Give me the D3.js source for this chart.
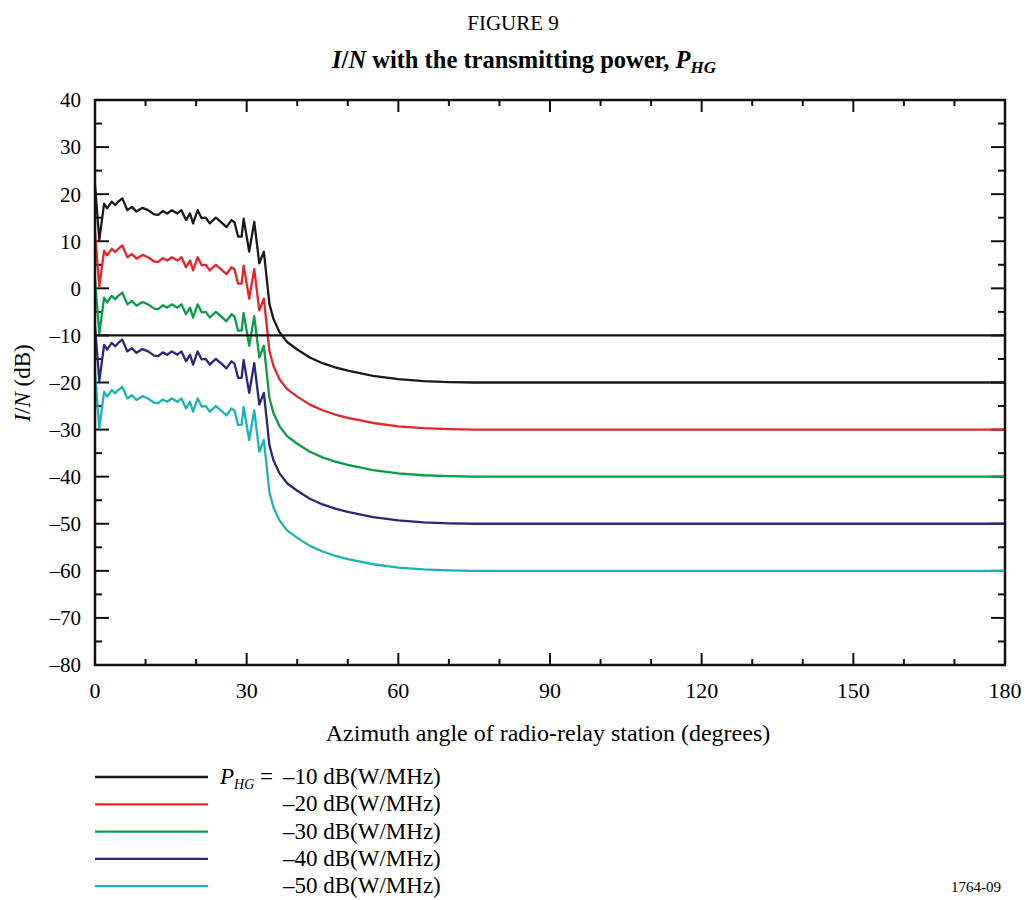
<!DOCTYPE html>
<html>
<head>
<meta charset="utf-8">
<script src="https://cdn.jsdelivr.net/npm/d3@7"></script>
<style>
  body { margin: 0; background: #fff; }
  svg { display: block; font-family: "Liberation Serif", "DejaVu Serif", serif; }
</style>
</head>
<body>
<script>
// Azimuth angle (degrees), shared by all curves
const azimuth = [0, 0.85, 1.8, 2.4, 3.3, 4.0, 4.6, 5.4, 6.4, 7.3,
  8.2, 9.4, 10.5, 11.7, 12.5, 13.4, 14.3, 15.2, 16.3, 17.1,
  18.0, 18.8, 19.4, 20.3, 21.1, 21.9, 22.7, 23.9, 24.9, 26.0,
  27.0, 27.6, 28.3, 29.0, 29.4, 30.5, 31.5, 32.5, 33.4, 34.5,
  35.3, 36.5, 38, 40, 42.5, 45, 47.5, 50, 55, 60,
  65, 70, 75, 90, 120, 150, 180];

// I/N (dB) for each transmitting power
const inPm10 = [22, 10.3, 18.0, 17.0, 18.4, 17.7, 18.4, 19.1, 16.6, 17.3,
  16.3, 17.1, 16.6, 15.7, 15.6, 16.4, 15.9, 16.6, 15.9, 16.6,
  14.5, 15.9, 13.8, 16.6, 14.9, 15.0, 13.8, 15.0, 14.1, 13.0,
  14.5, 14.0, 11.0, 11.0, 14.8, 7.8, 14.1, 5.3, 7.8, -3.3,
  -6.5, -9.3, -11.4, -13.0, -14.7, -15.9, -16.8, -17.5, -18.6, -19.3,
  -19.7, -19.9, -20, -20, -20, -20, -20];
const inPm20 = [12, 0.3, 8.0, 7.0, 8.4, 7.7, 8.4, 9.1, 6.6, 7.3,
  6.3, 7.1, 6.6, 5.7, 5.6, 6.4, 5.9, 6.6, 5.9, 6.6,
  4.5, 5.9, 3.8, 6.6, 4.9, 5.0, 3.8, 5.0, 4.1, 3.0,
  4.5, 4.0, 1.0, 1.0, 4.8, -2.2, 4.1, -4.7, -2.2, -13.3,
  -16.5, -19.3, -21.4, -23.0, -24.7, -25.9, -26.8, -27.5, -28.6, -29.3,
  -29.7, -29.9, -30, -30, -30, -30, -30];
const inPm30 = [2, -9.7, -2.0, -3.0, -1.6, -2.3, -1.6, -0.9, -3.4, -2.7,
  -3.7, -2.9, -3.4, -4.3, -4.4, -3.6, -4.1, -3.4, -4.1, -3.4,
  -5.5, -4.1, -6.2, -3.4, -5.1, -5.0, -6.2, -5.0, -5.9, -7.0,
  -5.5, -6.0, -9.0, -9.0, -5.2, -12.2, -5.9, -14.7, -12.2, -23.3,
  -26.5, -29.3, -31.4, -33.0, -34.7, -35.9, -36.8, -37.5, -38.6, -39.3,
  -39.7, -39.9, -40, -40, -40, -40, -40];
const inPm40 = [-8, -19.7, -12.0, -13.0, -11.6, -12.3, -11.6, -10.9, -13.4, -12.7,
  -13.7, -12.9, -13.4, -14.3, -14.4, -13.6, -14.1, -13.4, -14.1, -13.4,
  -15.5, -14.1, -16.2, -13.4, -15.1, -15.0, -16.2, -15.0, -15.9, -17.0,
  -15.5, -16.0, -19.0, -19.0, -15.2, -22.2, -15.9, -24.7, -22.2, -33.3,
  -36.5, -39.3, -41.4, -43.0, -44.7, -45.9, -46.8, -47.5, -48.6, -49.3,
  -49.7, -49.9, -50, -50, -50, -50, -50];
const inPm50 = [-18, -29.7, -22.0, -23.0, -21.6, -22.3, -21.6, -20.9, -23.4, -22.7,
  -23.7, -22.9, -23.4, -24.3, -24.4, -23.6, -24.1, -23.4, -24.1, -23.4,
  -25.5, -24.1, -26.2, -23.4, -25.1, -25.0, -26.2, -25.0, -25.9, -27.0,
  -25.5, -26.0, -29.0, -29.0, -25.2, -32.2, -25.9, -34.7, -32.2, -43.3,
  -46.5, -49.3, -51.4, -53.0, -54.7, -55.9, -56.8, -57.5, -58.6, -59.3,
  -59.7, -59.9, -60, -60, -60, -60, -60];

const powerLabels = ["–10 dB(W/MHz)", "–20 dB(W/MHz)", "–30 dB(W/MHz)", "–40 dB(W/MHz)", "–50 dB(W/MHz)"];
const threshold = -10;

const xTicks = [0, 30, 60, 90, 120, 150, 180];
const yTicks = [40, 30, 20, 10, 0, -10, -20, -30, -40, -50, -60, -70, -80];

const series = [
  { values: inPm10, color: "#1a1a1a" },
  { values: inPm20, color: "#e2262b" },
  { values: inPm30, color: "#0a9c48" },
  { values: inPm40, color: "#2a2878" },
  { values: inPm50, color: "#1db2b4" }
];

let width = 1027, height = 900;
let svg = d3.select("body").append("svg")
  .attr("width", width)
  .attr("height", height);

let x = d3.scaleLinear().domain([0, 180]).range([95, 1005]);
let y = d3.scaleLinear().domain([-80, 40]).range([665, 100]);

// titles
svg.append("text").attr("x", 513).attr("y", 30)
  .attr("text-anchor", "middle").attr("font-size", 21).text("FIGURE 9");

let sub = svg.append("text").attr("x", 524).attr("y", 68)
  .attr("text-anchor", "middle").attr("font-size", 24.5).attr("font-weight", "bold");
sub.append("tspan").attr("font-style", "italic").text("I");
sub.append("tspan").text("/");
sub.append("tspan").attr("font-style", "italic").text("N");
sub.append("tspan").text(" with the transmitting power, ");
sub.append("tspan").attr("font-style", "italic").text("P");
sub.append("tspan").attr("font-style", "italic").attr("font-size", 17).attr("dy", 5).text("HG");

// minor ticks (10 deg, 5 dB)
let xMinor = d3.range(0, 181, 10).filter(d => d % 30 !== 0);
let yMinor = d3.range(-80, 41, 5).filter(d => d % 10 !== 0);

let ticks = svg.append("g").attr("stroke", "#111");
ticks.selectAll(".xb").data(xTicks.concat(xMinor)).enter().append("line")
  .attr("x1", d => x(d)).attr("x2", d => x(d))
  .attr("y1", 665).attr("y2", d => d % 30 === 0 ? 653 : 659).attr("stroke-width", 2);
ticks.selectAll(".xt").data(xTicks.concat(xMinor)).enter().append("line")
  .attr("x1", d => x(d)).attr("x2", d => x(d))
  .attr("y1", 100).attr("y2", d => d % 30 === 0 ? 112 : 106).attr("stroke-width", 2);
ticks.selectAll(".yl").data(yTicks.concat(yMinor)).enter().append("line")
  .attr("y1", d => y(d)).attr("y2", d => y(d))
  .attr("x1", 95).attr("x2", d => d % 10 === 0 ? 109 : 102).attr("stroke-width", 2);
ticks.selectAll(".yr").data(yTicks.concat(yMinor)).enter().append("line")
  .attr("y1", d => y(d)).attr("y2", d => y(d))
  .attr("x1", 1005).attr("x2", d => d % 10 === 0 ? 991 : 998).attr("stroke-width", 2);

// tick labels
svg.append("g").selectAll("text").data(yTicks).enter().append("text")
  .attr("x", 81).attr("y", d => y(d)).attr("dy", "0.35em")
  .attr("text-anchor", "end").attr("font-size", 21)
  .text(d => d < 0 ? "–" + Math.abs(d) : d);
svg.append("g").selectAll("text").data(xTicks).enter().append("text")
  .attr("x", d => x(d)).attr("y", 698)
  .attr("text-anchor", "middle").attr("font-size", 22)
  .text(d => d);

// axis titles
svg.append("text").attr("x", 548).attr("y", 741)
  .attr("text-anchor", "middle").attr("font-size", 24)
  .text("Azimuth angle of radio-relay station (degrees)");

let yt = svg.append("text").attr("transform", "translate(30,383) rotate(-90)")
  .attr("text-anchor", "middle").attr("font-size", 23);
yt.append("tspan").attr("font-style", "italic").text("I");
yt.append("tspan").text("/");
yt.append("tspan").attr("font-style", "italic").text("N");
yt.append("tspan").text(" (dB)");

// curves
let line = d3.line()
  .x((d, i) => x(azimuth[i]))
  .y(d => y(d));

svg.append("g").selectAll("path")
  .data(series)
  .enter()
  .append("path")
  .attr("d", d => line(d.values))
  .attr("fill", "none")
  .attr("stroke", d => d.color)
  .attr("stroke-width", 2.3)
  .attr("stroke-linejoin", "round");

// threshold line at -10 dB
svg.append("line")
  .attr("x1", x(0)).attr("x2", x(180))
  .attr("y1", y(threshold)).attr("y2", y(threshold))
  .attr("stroke", "#111").attr("stroke-width", 2.2);

// frame
svg.append("rect")
  .attr("x", 95).attr("y", 100).attr("width", 910).attr("height", 565)
  .attr("fill", "none").attr("stroke", "#111").attr("stroke-width", 2.5);

// legend
let legend = svg.append("g");
series.forEach((s, i) => {
  let ly = 777 + i * 27.3;
  legend.append("line")
    .attr("x1", 95).attr("x2", 208).attr("y1", ly).attr("y2", ly)
    .attr("stroke", s.color).attr("stroke-width", 2.3);
  legend.append("text")
    .attr("x", 283).attr("y", ly + 7).attr("font-size", 23)
    .text(powerLabels[i]);
});
let pl = legend.append("text").attr("x", 220).attr("y", 784).attr("font-size", 23);
pl.append("tspan").attr("font-style", "italic").text("P");
pl.append("tspan").attr("font-style", "italic").attr("font-size", 14).attr("dy", 5).text("HG");
pl.append("tspan").attr("dy", -5).text(" =");

svg.append("text").attr("x", 1001).attr("y", 892)
  .attr("text-anchor", "end").attr("font-size", 15).text("1764-09");
</script>
</body>
</html>
